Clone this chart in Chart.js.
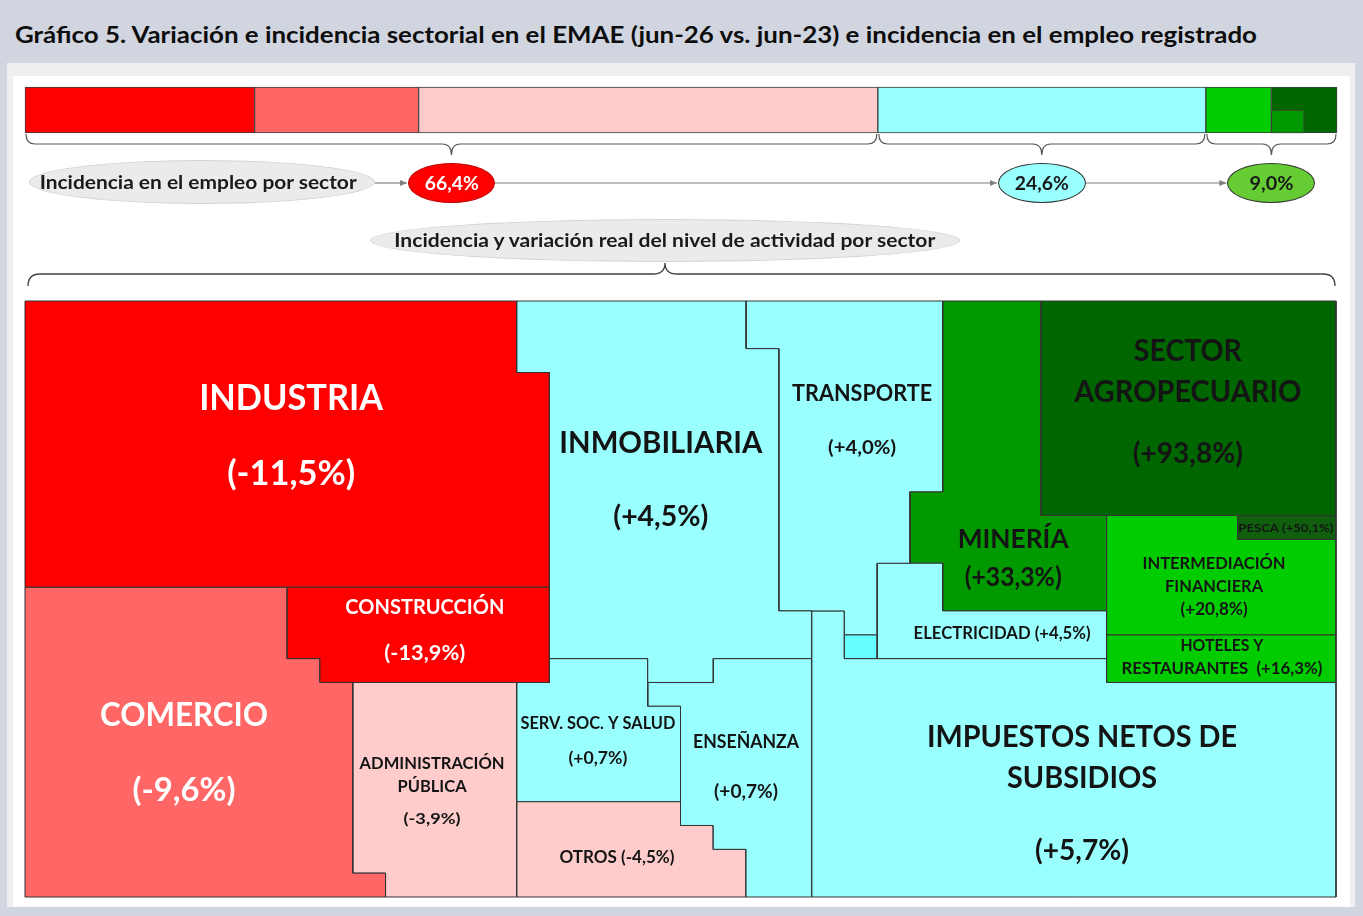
<!DOCTYPE html>
<html lang="es">
<head>
<meta charset="utf-8">
<title>Gráfico 5</title>
<script src="https://cdn.jsdelivr.net/npm/chart.js@4.4.1/dist/chart.umd.min.js"></script>
<style>
  html, body { margin:0; padding:0; }
  body { width:1363px; height:916px; position:relative; overflow:hidden; background:#d1d5e0; font-family: Lato, "Open Sans", sans-serif; }
  .abs { position:absolute; }
  #title { left:15px; top:24px; font-size:22.5px; line-height:1; font-weight:700; color:#0d0d0d; white-space:nowrap; transform-origin:0 50%; }
  #panel { left:7px; top:63px; width:1348px; height:844px; background:#efefef; }
  #inner { left:13px; top:76px; width:1337px; height:831px; background:#ffffff; }
  .ell { position:absolute; box-sizing:border-box; border-radius:50%; display:flex; align-items:center; justify-content:center; font-weight:700; color:#1a1a1a; font-size:18.5px; line-height:1; }
  .ell span { display:inline-block; white-space:nowrap; transform-origin:50% 50%; }
  .wrap { position:absolute; }
</style>
</head>
<body>
<div id="panel" class="abs"></div>
<div id="inner" class="abs"></div>
<div id="title" class="abs" data-w="1242">Gráfico 5. Variación e incidencia sectorial en el EMAE (jun-26 vs. jun-23) e incidencia en el empleo registrado</div>

<div class="wrap" style="left:20px;top:82px;width:1322px;height:78px;"><canvas id="empleo"></canvas></div>

<svg id="flechas" class="abs" style="left:0;top:0" width="1363" height="916">
  <defs>
    <marker id="ah" markerWidth="8" markerHeight="8" refX="7" refY="4" orient="auto" markerUnits="userSpaceOnUse">
      <path d="M0,1 L7,4 L0,7 z" fill="#7f7f7f"/>
    </marker>
  </defs>
  <path d="M28,286 Q28,274 40,274 L653,274 Q665,274 665,263 Q665,274 677,274 L1323,274 Q1335,274 1335,286" fill="none" stroke="#404040" stroke-width="1.3"/>
</svg>

<div id="eTitulo" class="ell" style="left:29px;top:160px;width:346px;height:44px;background:#ebebeb;border:1px solid #d4d4d4;padding-right:7px;"><span data-w="317">Incidencia en el empleo por sector</span></div>
<div id="g0" class="ell" style="top:163px;width:87px;height:40px;background:#ff0000;border:1px solid #c00000;color:#ffffff;"><span data-w="54"></span></div>
<div id="g1" class="ell" style="top:163px;width:88px;height:40px;background:#99ffff;border:1px solid #333333;"><span data-w="54"></span></div>
<div id="g2" class="ell" style="top:163px;width:88px;height:40px;background:#66cc33;border:1px solid #333333;"><span data-w="44"></span></div>
<div class="ell" style="left:370px;top:219px;width:590px;height:43px;background:#ebebeb;border:1px solid #d4d4d4;"><span data-w="541">Incidencia y variación real del nivel de actividad por sector</span></div>

<div class="wrap" style="left:20px;top:296px;width:1321px;height:606px;"><canvas id="treemap"></canvas></div>

<script>
// ---------------- DATA ----------------
// Employment incidence bar (share of the bar, %)
const empleoSectores = ['Industria y construcción','Comercio','Administración pública y otros','Servicios','Intermediación financiera y hoteles','Sector agropecuario y pesca','Minería'];
const empleoParticipacion = [17.5, 12.5, 35.0, 25.0, 5.0, 3.75, 1.25];
const empleoGrupo = [0, 0, 0, 1, 2, 2, 2];
const empleoColores = ['#ff0000','#ff6666','#ffcccc','#99ffff','#00cc00','#006600','#009900'];
const gruposIncidencia = [66.4, 24.6, 9.0];

// Activity treemap: sectors, real variation, colours
const sectores = ['INDUSTRIA','CONSTRUCCIÓN','COMERCIO','ADMINISTRACIÓN\nPÚBLICA','INMOBILIARIA','SERV. SOC. Y SALUD','ENSEÑANZA','OTROS','TRANSPORTE','','ELECTRICIDAD','IMPUESTOS NETOS DE\nSUBSIDIOS','MINERÍA','SECTOR\nAGROPECUARIO','PESCA','INTERMEDIACIÓN\nFINANCIERA','HOTELES Y\nRESTAURANTES'];
const variacion = [-11.5, -13.9, -9.6, -3.9, 4.5, 0.7, 0.7, -4.5, 4.0, null, 4.5, 5.7, 33.3, 93.8, 50.1, 20.8, 16.3];
const colores = ['#ff0000','#ff0000','#ff6666','#ffcccc','#99ffff','#99ffff','#99ffff','#ffcccc','#99ffff','#66ffff','#99ffff','#99ffff','#009900','#006600','#0f5f0f','#00cc00','#00cc00'];

// Sector outlines on the 40 x 25 cell grid (each cell = 0,1% of activity)
const contornos = [
  [[0,0],[15,0],[15,3],[16,3],[16,12],[0,12]],
  [[8,12],[16,12],[16,16],[9,16],[9,15],[8,15]],
  [[0,12],[8,12],[8,15],[9,15],[9,16],[10,16],[10,24],[11,24],[11,25],[0,25]],
  [[10,16],[15,16],[15,25],[11,25],[11,24],[10,24]],
  [[15,0],[22,0],[22,2],[23,2],[23,13],[24,13],[24,15],[21,15],[21,16],[19,16],[19,15],[16,15],[16,3],[15,3]],
  [[16,15],[19,15],[19,17],[20,17],[20,21],[15,21],[15,16],[16,16]],
  [[19,16],[21,16],[21,15],[24,15],[24,25],[22,25],[22,23],[21,23],[21,22],[20,22],[20,17],[19,17]],
  [[15,21],[20,21],[20,22],[21,22],[21,23],[22,23],[22,25],[15,25]],
  [[22,0],[28,0],[28,8],[27,8],[27,11],[26,11],[26,14],[25,14],[25,13],[23,13],[23,2],[22,2]],
  [[25,14],[26,14],[26,15],[25,15]],
  [[26,11],[28,11],[28,13],[33,13],[33,15],[26,15]],
  [[24,13],[25,13],[25,15],[33,15],[33,16],[40,16],[40,25],[24,25]],
  [[28,0],[31,0],[31,9],[33,9],[33,13],[28,13],[28,11],[27,11],[27,8],[28,8]],
  [[31,0],[40,0],[40,9],[31,9]],
  [[37,9],[40,9],[40,10],[37,10]],
  [[33,9],[37,9],[37,10],[40,10],[40,14],[33,14]],
  [[33,14],[40,14],[40,16],[33,16]]
];

// ---------------- LAYOUT / STYLE (not data) ----------------
const FONT = 'Lato, "Open Sans", sans-serif';
const rotulos = [
  {x:8.12,  y:[4.03,7.21],        s:[36,34],       w:[184,128], c:'#ffffff'},
  {x:12.2,  y:[12.79,14.72],      s:[21.5,21.5],   w:[159,81],  c:'#ffffff'},
  {x:4.85,  y:[17.32,20.51],      s:[32.5,32],     w:[168,103], c:'#ffffff'},
  {x:12.42, y:[19.38,20.34,21.69],s:[17,17,16],    w:[145,69,57]},
  {x:19.4,  y:[5.91,9.02],        s:[30,29],       w:[203,95]},
  {x:17.48, y:[17.7,19.17],       s:[16.5,16.5],   w:[155,59]},
  {x:22.0,  y:[18.46,20.55],      s:[18.5,18.5],   w:[106,64]},
  {x:18.06, y:[23.32],            s:[16.5],        w:[115], inline:' '},
  {x:25.54, y:[3.86,6.12],        s:[23,19.5],     w:[140,68]},
  null,
  {x:29.81, y:[13.93],            s:[16.5],        w:[177], inline:' '},
  {x:32.25, y:[18.25,19.97,23.03],s:[30,30,29],    w:[310,150,94]},
  {x:30.15, y:[9.94,11.58],       s:[27,26],       w:[111,97]},
  {x:35.48, y:[2.06,3.78,6.38],   s:[30,30,29],    w:[108,227,110]},
  {x:38.47, y:[9.52],             s:[11],          w:[95], inline:' '},
  {x:36.28, y:[10.99,11.95,12.92],s:[17,17,16.5],  w:[143,98,67]},
  {x:36.52, y:[14.43,15.39],      s:[17,17],       w:[83,201], inline:'  '}
];

function fmtVar(v) {
  return '(' + (v > 0 ? '+' : '') + v.toFixed(1).replace('.', ',') + '%)';
}
function fmtPct(v) { return v.toFixed(1).replace('.', ',') + '%'; }

function drawFit(ctx, text, cx, cy, size, width, color) {
  ctx.save();
  ctx.font = '700 ' + size + 'px ' + FONT;
  const m = ctx.measureText(text).width || 1;
  ctx.translate(cx, cy + 0.358 * size);
  ctx.scale(width / m, 1);
  ctx.fillStyle = color;
  ctx.textAlign = 'center';
  ctx.textBaseline = 'alphabetic';
  ctx.fillText(text, 0, 0);
  ctx.restore();
}

// ---------------- EMPLOYMENT BAR ----------------
const rangos = [];
(function () { let acc = 0; empleoParticipacion.forEach(v => { rangos.push([acc, acc + v]); acc += v; }); })();
const last = empleoParticipacion.length - 1;       // inset sector (Minería)
const base = last - 1;                              // enclosing sector (agro)
const gruposRango = gruposIncidencia.map((_, g) => {
  const idx = empleoGrupo.map((gg, i) => gg === g ? i : -1).filter(i => i >= 0);
  return [Math.min(...idx.map(i => rangos[i][0])), Math.max(...idx.map(i => rangos[i][1]))];
});

const barDatasets = [];
for (let i = 0; i < last; i++) {
  barDatasets.push({
    label: empleoSectores[i],
    data: [i === base ? [rangos[base][0], rangos[last][1]] : rangos[i]],
    backgroundColor: empleoColores[i],
    borderColor: '#3f3f3f', borderWidth: 1, borderSkipped: false,
    grouped: false, barPercentage: 1, categoryPercentage: 1, yAxisID: 'y', clip: false, order: 1
  });
}
barDatasets.push({
  label: empleoSectores[last],
  data: [null, [rangos[base][0], rangos[base][0] + 2 * empleoParticipacion[last]]],
  backgroundColor: empleoColores[last],
  borderColor: '#3f3f3f', borderWidth: 1, borderSkipped: false,
  grouped: false, barPercentage: 1, categoryPercentage: 1, yAxisID: 'y2', clip: false, order: 0
});

const llaves = {
  id: 'llaves',
  afterDatasetsDraw(chart) {
    const { ctx, chartArea, scales } = chart;
    const x = scales.x;
    const y0 = chartArea.bottom + 1, y1 = y0 + 10, y2 = y0 + 21;
    ctx.save();
    ctx.strokeStyle = '#595959'; ctx.lineWidth = 1.2;
    gruposRango.forEach(([a, b]) => {
      const x1 = x.getPixelForValue(a) + 1, x2 = x.getPixelForValue(b) - 1, m = (x1 + x2) / 2;
      ctx.beginPath();
      ctx.moveTo(x1, y0);
      ctx.quadraticCurveTo(x1, y1, x1 + 9, y1);
      ctx.lineTo(m - 9, y1);
      ctx.quadraticCurveTo(m, y1, m, y2);
      ctx.quadraticCurveTo(m, y1, m + 9, y1);
      ctx.lineTo(x2 - 9, y1);
      ctx.quadraticCurveTo(x2, y1, x2, y0);
      ctx.stroke();
    });
    ctx.restore();
  }
};

const empleoChart = new Chart(document.getElementById('empleo'), {
  type: 'bar',
  data: { labels: ['Empleo'], datasets: barDatasets },
  options: {
    indexAxis: 'y', responsive: true, maintainAspectRatio: false, animation: false,
    layout: { padding: { left: 5, right: 5, top: 5, bottom: 27 } },
    scales: {
      x: { type: 'linear', min: 0, max: 100, display: false },
      y: { type: 'category', labels: ['Empleo'], offset: true, display: false },
      y2: { type: 'category', labels: ['sup', 'inf'], offset: true, display: false }
    },
    plugins: { legend: { display: false }, tooltip: { enabled: false } }
  },
  plugins: [llaves]
});

// Group ellipses placed under the brace tips, with arrows
(function () {
  const x = empleoChart.scales.x;
  const offL = 20;
  const svg = document.getElementById('flechas');
  const ns = 'http://www.w3.org/2000/svg';
  const ys = 183;
  let prevRight = 375;
  gruposRango.forEach(([a, b], g) => {
    const el = document.getElementById('g' + g);
    const w = parseFloat(el.style.width);
    const cx = offL + (x.getPixelForValue(a) + x.getPixelForValue(b)) / 2;
    el.style.left = (cx - w / 2) + 'px';
    el.querySelector('span').textContent = fmtPct(gruposIncidencia[g]);
    const ln = document.createElementNS(ns, 'line');
    ln.setAttribute('x1', prevRight); ln.setAttribute('y1', ys);
    ln.setAttribute('x2', cx - w / 2 - 1); ln.setAttribute('y2', ys);
    ln.setAttribute('stroke', '#7f7f7f'); ln.setAttribute('stroke-width', '1.2');
    ln.setAttribute('marker-end', 'url(#ah)');
    svg.appendChild(ln);
    prevRight = cx + w / 2;
  });
})();

// ---------------- TREEMAP ----------------
const tmDatasets = contornos.map((poly, i) => ({
  label: sectores[i].replace('\n', ' ') || 'sin rótulo',
  data: poly.concat([poly[0]]).map(([x, y]) => ({ x, y })),
  showLine: true, fill: 'shape',
  backgroundColor: colores[i], borderColor: '#333333', borderWidth: 1,
  pointRadius: 0, pointHoverRadius: 0, tension: 0, clip: false
}));

const rotulosPlugin = {
  id: 'rotulos',
  afterDatasetsDraw(chart) {
    const { ctx, scales: { x, y } } = chart;
    rotulos.forEach((r, i) => {
      if (!r) return;
      const lines = sectores[i].split('\n');
      const val = fmtVar(variacion[i]);
      if (r.inline) lines[lines.length - 1] += r.inline + val; else lines.push(val);
      const px = x.getPixelForValue(r.x);
      lines.forEach((t, k) => {
        drawFit(ctx, t, px, y.getPixelForValue(r.y[k]), r.s[k], r.w[k], r.c || '#141414');
      });
    });
  }
};

new Chart(document.getElementById('treemap'), {
  type: 'scatter',
  data: { datasets: tmDatasets },
  options: {
    responsive: true, maintainAspectRatio: false, animation: false,
    layout: { padding: 5 },
    scales: {
      x: { type: 'linear', min: 0, max: 40, display: false },
      y: { type: 'linear', min: 0, max: 25, reverse: true, display: false }
    },
    plugins: { legend: { display: false }, tooltip: { enabled: false } }
  },
  plugins: [rotulosPlugin]
});

// ---------------- fit HTML texts to their reference widths ----------------
function fitAll() {
  document.querySelectorAll('[data-w]').forEach(el => {
    el.style.transform = 'none';
    const w = el.getBoundingClientRect().width;
    if (w > 0) el.style.transform = 'scaleX(' + (parseFloat(el.dataset.w) / w) + ')';
  });
}
fitAll();
if (document.fonts && document.fonts.ready) document.fonts.ready.then(fitAll);
</script>
</body>
</html>
